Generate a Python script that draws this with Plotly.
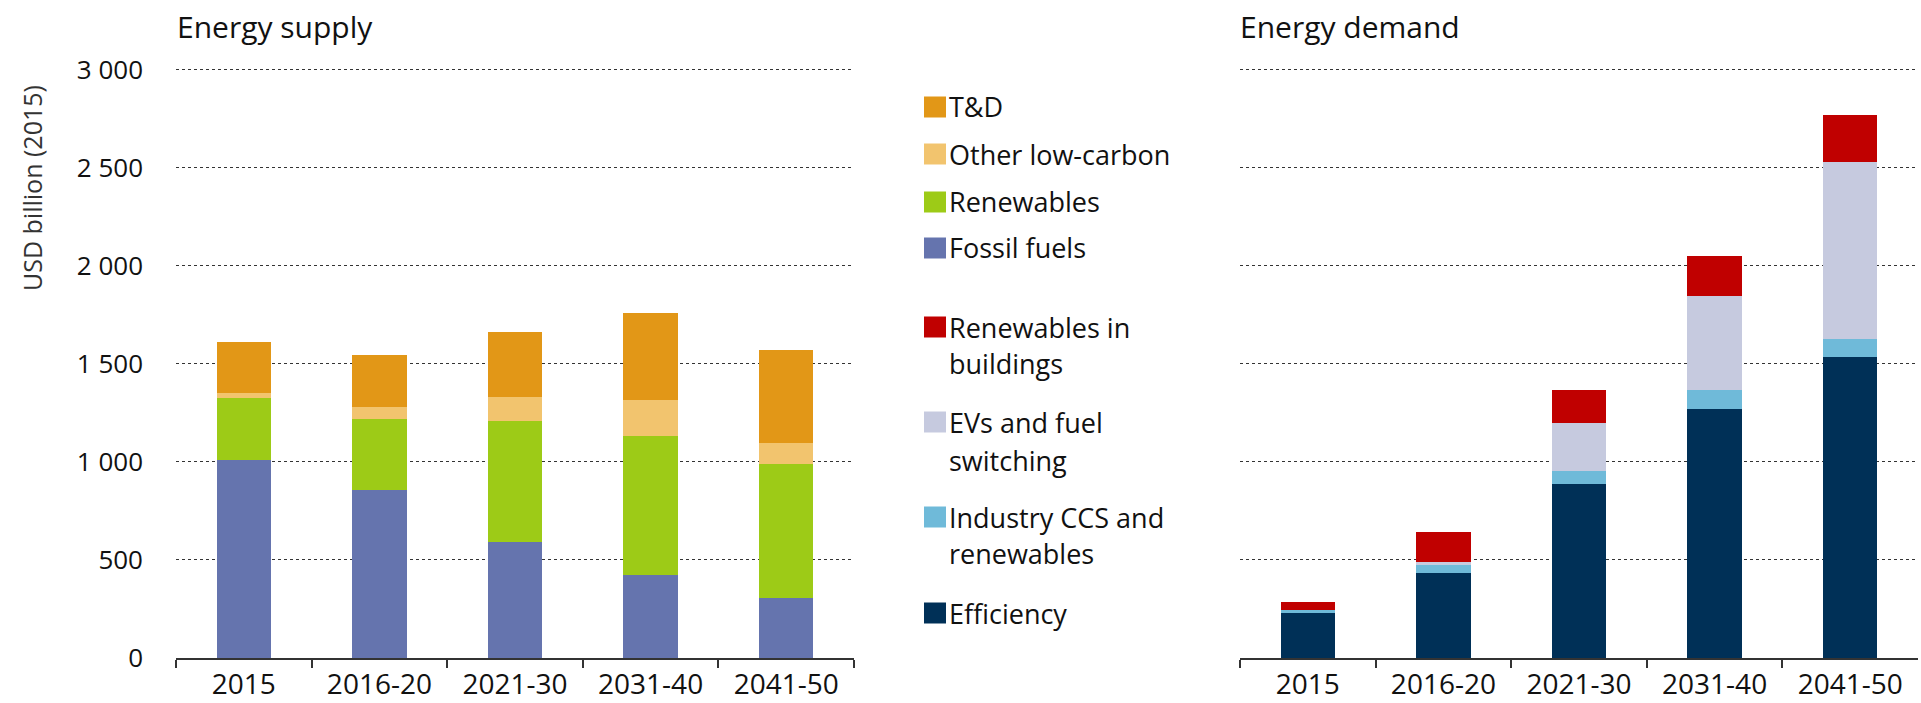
import plotly.graph_objects as go

# ---------------- data ----------------
categories = ["2015", "2016-20", "2021-30", "2031-40", "2041-50"]

supply_names = ["Fossil fuels", "Renewables", "Other low-carbon", "T&D"]
fossil_fuels = [1010, 858, 590, 421, 304]
renewables = [316, 359, 617, 711, 686]
other_low_carbon = [28, 64, 124, 183, 105]
t_and_d = [260, 263, 334, 446, 476]

demand_names = ["Efficiency", "Industry CCS and renewables",
                "EVs and fuel switching", "Renewables in buildings"]
efficiency = [232, 435, 888, 1268, 1534]
industry_ccs = [12, 39, 68, 97, 96]
evs_fuel_switching = [0, 16, 243, 482, 899]
renewables_buildings = [40, 154, 170, 204, 239]

y_ticks = [0, 500, 1000, 1500, 2000, 2500, 3000]

supply_colors = ["#6574AE", "#9DCB17", "#F2C46E", "#E29717"]
demand_colors = ["#003057", "#6FBAD9", "#C6CADF", "#C00000"]

# legend labels (top-down, possibly multi-line)
supply_legend = [("T&D", ["T&D"]), ("Other low-carbon", ["Other low-carbon"]),
                 ("Renewables", ["Renewables"]), ("Fossil fuels", ["Fossil fuels"])]
demand_legend = [("Renewables in buildings", ["Renewables in", "buildings"]),
                 ("EVs and fuel switching", ["EVs and fuel", "switching"]),
                 ("Industry CCS and renewables", ["Industry CCS and", "renewables"]),
                 ("Efficiency", ["Efficiency"])]

# ---------------- layout constants (pixels) ----------------
W, H = 1921, 703
Y_MAX = 3010
TOP, BOTTOM = 68, 658
FONT = "'Open Sans', Lato, sans-serif"
TXT = "#111111"


def px(x):
    return x / W


def py(y):
    return (BOTTOM - y) / (BOTTOM - TOP)


fig = go.Figure()

supply_series = [fossil_fuels, renewables, other_low_carbon, t_and_d]
for name, vals, col in zip(supply_names, supply_series, supply_colors):
    fig.add_trace(go.Bar(x=categories, y=vals, name=name, marker_color=col,
                         marker_line_width=0, xaxis="x", yaxis="y",
                         showlegend=False))

demand_series = [efficiency, industry_ccs, evs_fuel_switching, renewables_buildings]
for name, vals, col in zip(demand_names, demand_series, demand_colors):
    fig.add_trace(go.Bar(x=categories, y=vals, name=name, marker_color=col,
                         marker_line_width=0, xaxis="x2", yaxis="y2",
                         showlegend=False))

xaxis_common = dict(type="category", tickson="boundaries", ticks="outside",
                    ticklen=8, tickwidth=2, tickcolor="#333333",
                    showline=True, linecolor="#333333", linewidth=2,
                    showgrid=False, tickfont=dict(family=FONT, size=28, color=TXT),
                    ticklabelstandoff=0, fixedrange=True)
yaxis_common = dict(range=[0, Y_MAX], tickvals=y_ticks, tickformat=",",
                    showgrid=True, griddash="dot", gridcolor="#333333",
                    gridwidth=1, zeroline=False, showline=False,
                    tickfont=dict(family=FONT, size=26, color=TXT),
                    fixedrange=True)

fig.update_layout(
    width=W, height=H,
    margin=dict(l=0, r=0, t=TOP, b=H - BOTTOM, autoexpand=False),
    paper_bgcolor="white", plot_bgcolor="white",
    barmode="stack", bargap=0.6,
    separators=". ",
    xaxis=dict(domain=[px(176), px(854)], anchor="y", **xaxis_common),
    yaxis=dict(domain=[0, 1], anchor="x", ticklabelstandoff=32, **yaxis_common),
    xaxis2=dict(domain=[px(1240), px(1918)], anchor="y2", **xaxis_common),
    yaxis2=dict(domain=[0, 1], anchor="x2", showticklabels=False, **yaxis_common),
)

ann = []
# titles
ann.append(dict(text="Energy supply", x=px(175), y=py(26), xref="paper", yref="paper",
                xanchor="left", yanchor="middle", showarrow=False,
                font=dict(family=FONT, size=30, color=TXT)))
ann.append(dict(text="Energy demand", x=px(1238), y=py(26), xref="paper", yref="paper",
                xanchor="left", yanchor="middle", showarrow=False,
                font=dict(family=FONT, size=30, color=TXT)))
# y-axis title
ann.append(dict(text="USD billion (2015)", x=px(32), y=py(188), xref="paper", yref="paper",
                xanchor="center", yanchor="middle", textangle=-90, showarrow=False,
                font=dict(family=FONT, size=25, color="#333333")))

shapes = []
color_of = dict(zip(supply_names + demand_names, supply_colors + demand_colors))
supply_y = [[107], [154], [202], [248]]
demand_y = [[327, 363], [422, 460], [517, 553], [613]]

for (name, lines), ys in list(zip(supply_legend, supply_y)) + list(zip(demand_legend, demand_y)):
    y0 = ys[0]
    shapes.append(dict(type="rect", xref="paper", yref="paper",
                       x0=px(924), x1=px(946), y0=py(y0 + 10.5), y1=py(y0 - 10.5),
                       fillcolor=color_of[name], line_width=0))
    for line, yy in zip(lines, ys):
        ann.append(dict(text=line, x=px(947), y=py(yy), xref="paper", yref="paper",
                        xanchor="left", yanchor="middle", showarrow=False,
                        font=dict(family=FONT, size=27, color=TXT)))

fig.update_layout(annotations=ann, shapes=shapes)

fig.write_html("out.html",
               config={"displayModeBar": False},
               post_script="document.body.style.margin='0';"
                           "document.body.style.overflow='hidden';")
